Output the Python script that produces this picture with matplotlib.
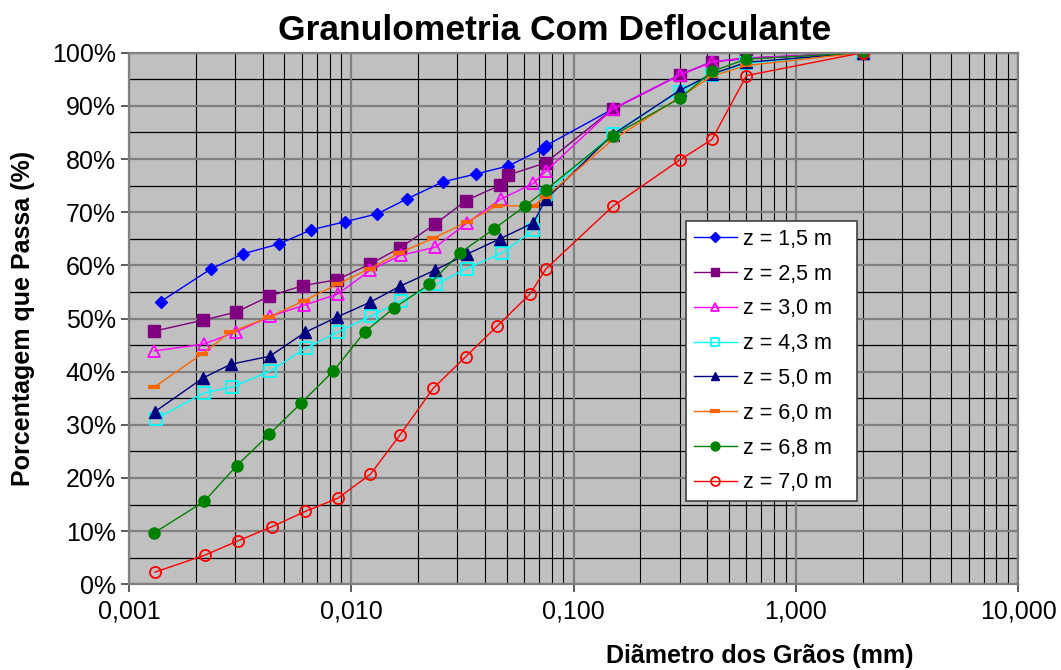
#!/usr/bin/env python3
"""Granulometria com defloculante: curvas granulometricas por profundidade."""
import matplotlib
matplotlib.use("Agg")
import matplotlib.pyplot as plt
import numpy as np

plt.rcParams["font.family"] = ["Liberation Sans", "DejaVu Sans"]

# sieve sizes (mm) shared by all depths
sieves = [0.075, 0.15, 0.30, 0.42, 0.60, 2.0]

# z = 1,5 m
d_15 = [0.00139, 0.00233, 0.00327, 0.00471, 0.00661, 0.00937, 0.0131, 0.0178,
        0.0258, 0.0365, 0.0509, 0.0726] + sieves
p_15 = [53.2, 59.3, 62.2, 64.0, 66.7, 68.2, 69.7, 72.5, 75.7, 77.2, 78.7, 81.9,
        82.5, 89.4, 95.8, 98.3, 98.9, 100.0]

# z = 2,5 m
d_25 = [0.00129, 0.00216, 0.00303, 0.00428, 0.00607, 0.00865, 0.0122, 0.0166,
        0.0237, 0.0329, 0.0468, 0.0509] + sieves
p_25 = [47.6, 49.7, 51.2, 54.2, 56.2, 57.3, 60.3, 63.3, 67.7, 72.2, 75.1, 77.0,
        79.3, 89.4, 95.8, 98.3, 99.0, 100.0]

# z = 3,0 m
d_30 = [0.00130, 0.00217, 0.00304, 0.00431, 0.00613, 0.00868, 0.0122, 0.0167,
        0.0239, 0.0330, 0.0472, 0.0659] + sieves
p_30 = [43.9, 45.2, 47.5, 50.4, 52.5, 54.6, 59.1, 61.9, 63.4, 67.9, 72.5, 75.4,
        77.7, 89.4, 95.8, 98.3, 99.0, 100.0]

# z = 4,3 m
d_43 = [0.00132, 0.00217, 0.00290, 0.00431, 0.00624, 0.00875, 0.0123, 0.0167,
        0.0241, 0.0330, 0.0475, 0.0659] + sieves
p_43 = [31.1, 36.0, 37.1, 40.1, 44.4, 47.5, 50.5, 53.3, 56.4, 59.4, 62.3, 66.6,
        73.5, 84.8, 92.7, 95.9, 98.0, 100.0]

# z = 5,0 m
d_50 = [0.00131, 0.00215, 0.00287, 0.00430, 0.00620, 0.00865, 0.0122, 0.0166,
        0.0238, 0.0331, 0.0467, 0.0659] + sieves
p_50 = [32.5, 38.8, 41.4, 42.9, 47.4, 50.3, 53.1, 56.1, 59.1, 62.1, 65.0, 68.0,
        72.4, 84.6, 92.9, 96.0, 98.2, 100.0]

# z = 6,0 m
d_60 = [0.00130, 0.00214, 0.00285, 0.00428, 0.00610, 0.00863, 0.0121, 0.0164,
        0.0234, 0.0330, 0.0451, 0.0659] + sieves
p_60 = [37.1, 43.4, 47.4, 50.3, 53.3, 56.4, 59.4, 62.3, 65.1, 68.1, 71.2, 71.2,
        72.9, 83.6, 91.6, 95.6, 97.6, 100.0]

# z = 6,8 m
d_68 = [0.00130, 0.00218, 0.00305, 0.00427, 0.00595, 0.00830, 0.0115, 0.0156,
        0.0224, 0.0310, 0.0437, 0.0607] + sieves
p_68 = [9.7, 15.6, 22.3, 28.2, 34.1, 40.1, 47.5, 52.0, 56.4, 62.4, 66.8, 71.2,
        74.2, 84.4, 91.4, 96.5, 98.8, 100.0]

# z = 7,0 m
d_70 = [0.00131, 0.00220, 0.00310, 0.00438, 0.00620, 0.00870, 0.0122, 0.0165,
        0.0234, 0.0327, 0.0454, 0.0637] + sieves
p_70 = [2.3, 5.5, 8.2, 10.8, 13.7, 16.2, 20.7, 28.0, 36.9, 42.8, 48.6, 54.6,
        59.3, 71.1, 79.8, 83.7, 95.7, 100.0]

labels = ["z = 1,5 m", "z = 2,5 m", "z = 3,0 m", "z = 4,3 m",
          "z = 5,0 m", "z = 6,0 m", "z = 6,8 m", "z = 7,0 m"]
x_ticks = [0.001, 0.01, 0.1, 1, 10]
x_ticklabels = ["0,001", "0,010", "0,100", "1,000", "10,000"]
y_ticks = list(range(0, 101, 10))

series = [
    (d_15, p_15, dict(color="#0000FF", marker="D", ms=6, mfc="#0000FF")),
    (d_25, p_25, dict(color="#800080", marker="s", ms=8, mfc="#800080")),
    (d_30, p_30, dict(color="#FF00FF", marker="^", ms=8, mfc="none", mew=1.3)),
    (d_43, p_43, dict(color="#00FFFF", marker="s", ms=8, mfc="none", mew=1.3)),
    (d_50, p_50, dict(color="#000080", marker="^", ms=8, mfc="#000080")),
    (d_60, p_60, dict(color="#FF6600", marker="_", ms=9, mew=3)),
    (d_68, p_68, dict(color="#008000", marker="o", ms=8, mfc="#008000")),
    (d_70, p_70, dict(color="#FF0000", marker="o", ms=8, mfc="none", mew=1.3)),
]

fig = plt.figure(figsize=(10.61, 6.70), dpi=100)
ax = fig.add_axes([0.1216, 0.1279, 0.8379, 0.7934])
ax.set_facecolor("#C0C0C0")

for (d, p, style), lab in zip(series, labels):
    ax.plot(d, np.array(p) / 100.0, lw=1.0, label=lab, **style)

ax.set_xscale("log")
ax.set_xlim(0.001, 10)
ax.set_ylim(0, 1)

# gridlines: major darker gray, minor thin black
for dec in [0.001, 0.01, 0.1, 1]:
    for k in range(2, 10):
        ax.axvline(dec * k, color="black", lw=0.8, zorder=0.5)
for v in x_ticks:
    ax.axvline(v, color="#808080", lw=1.6, zorder=0.6)
for v in range(5, 100, 10):
    ax.axhline(v / 100.0, color="black", lw=0.9, zorder=0.5)
for v in y_ticks:
    ax.axhline(v / 100.0, color="#808080", lw=1.6, zorder=0.6)

ax.set_xticks(x_ticks)
ax.set_xticklabels(x_ticklabels)
ax.xaxis.set_minor_locator(matplotlib.ticker.NullLocator())
ax.set_yticks([v / 100.0 for v in y_ticks])
ax.set_yticklabels([f"{v}%" for v in y_ticks])
ax.tick_params(axis="both", labelsize=18, length=6, width=1.2, color="#404040",
               direction="out")
ax.tick_params(axis="x", pad=5)

for s in ax.spines.values():
    s.set_color("#808080")
    s.set_linewidth(1.6)

ax.set_title("Granulometria Com Defloculante", fontsize=25.5, fontweight="bold",
             pad=9, x=0.479)
ax.set_ylabel("Porcentagem que Passa (%)", fontsize=18, fontweight="bold")
ax.yaxis.set_label_coords(-0.106, 0.5)
ax.set_xlabel("Diãmetro dos Grãos (mm)", fontsize=18, fontweight="bold")
ax.xaxis.set_label_coords(0.71, -0.112)

leg = ax.legend(loc="lower left", bbox_to_anchor=(0.627, 0.157, 0.192, 0.517),
                mode="expand", fontsize=15.5, frameon=True, fancybox=False,
                borderpad=0.35, labelspacing=0.64, handlelength=2.0,
                handletextpad=0.3, borderaxespad=0, markerscale=0.8)
leg.get_frame().set_edgecolor("#404040")
leg.get_frame().set_linewidth(1.2)
leg.get_frame().set_facecolor("white")
leg.get_frame().set_alpha(1)

fig.savefig("out.png", dpi=100, facecolor="white")
